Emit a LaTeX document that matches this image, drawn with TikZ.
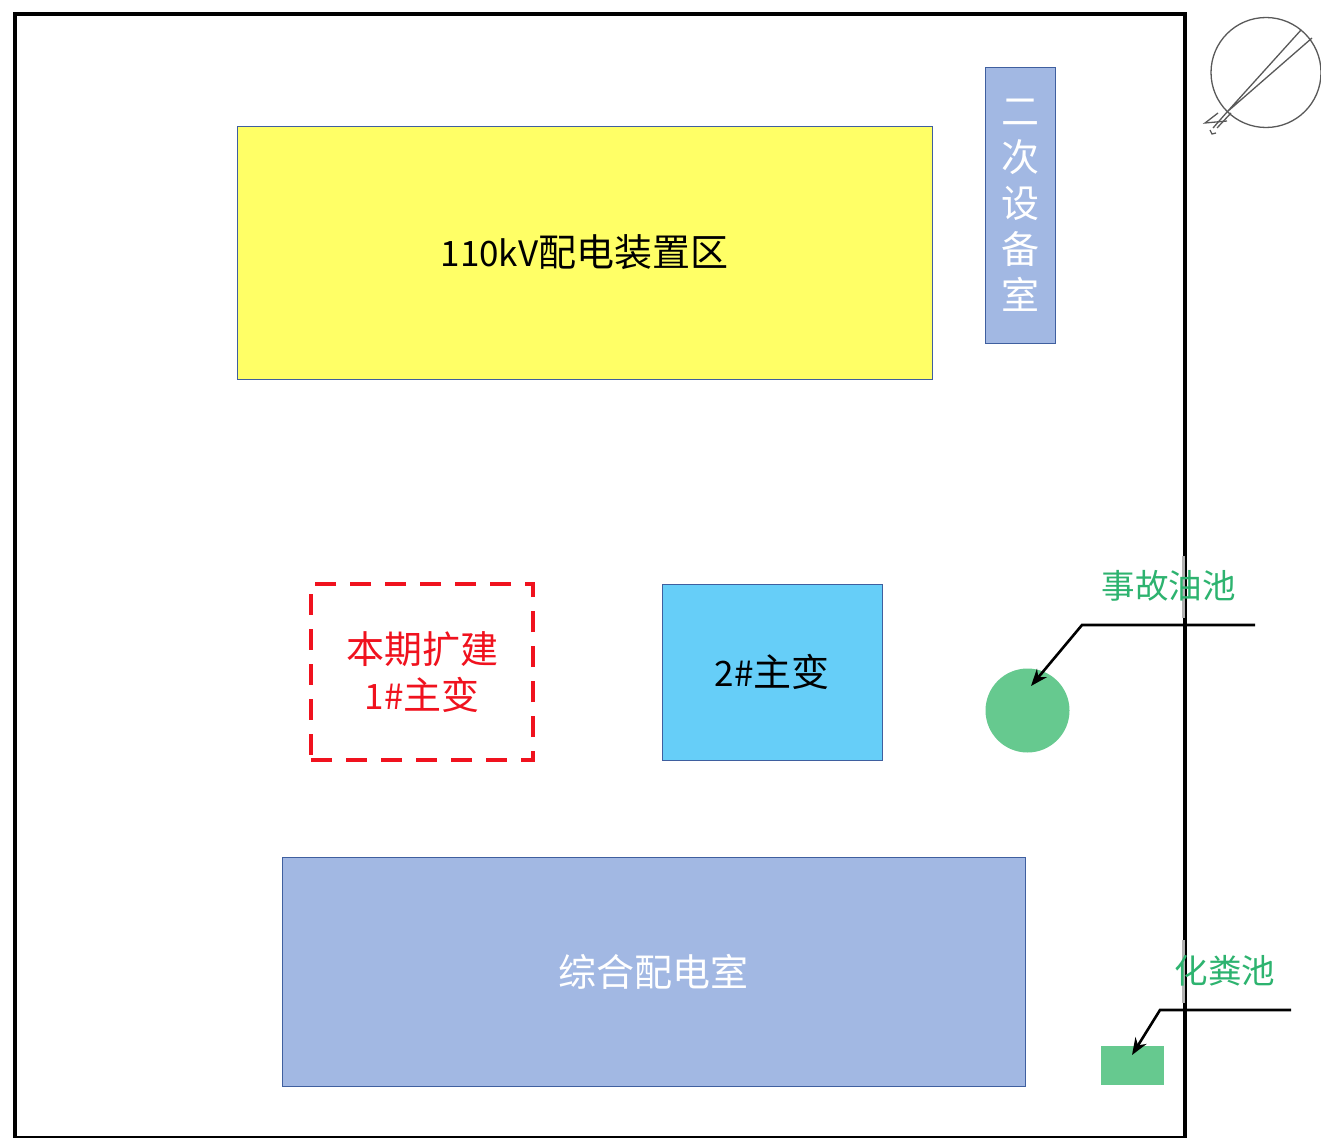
\documentclass[tikz,border=0pt]{standalone}
\usepackage{fontspec}
\usetikzlibrary{arrows.meta}
\setmainfont{Carlito}
\newfontfamily\cjk{Noto Sans CJK SC}
\newcommand{\lat}[1]{{\fontsize{35}{46}\selectfont #1}}
\definecolor{zoneyellow}{HTML}{FFFF66}
\definecolor{zoneblue}{HTML}{A2B8E3}
\definecolor{zonesky}{HTML}{66CEF8}
\definecolor{zonegreen}{HTML}{66C98F}
\definecolor{edgeblue}{HTML}{3F5F9F}
\definecolor{markred}{HTML}{F0121E}
\definecolor{labelgreen}{HTML}{2DB36F}
\tikzset{
  zone/.style={draw=edgeblue,line width=0.9pt,inner sep=0pt,outer sep=0pt,align=center,text=black,
    font=\cjk\fontsize{38}{46}\selectfont},
  pit/.style={fill=zonegreen,draw=none,inner sep=0pt,outer sep=0pt},
  pitlabel/.style={inner sep=0pt,text=labelgreen,font=\cjk\fontsize{33.5}{40}\selectfont},
  leader/.style={draw=black,line width=2.6pt,-{Stealth[length=17pt,width=13pt]}},
  compassline/.style={draw=black!65,line width=1.3pt}
}
\begin{document}
\begin{tikzpicture}[x=1pt,y=-1pt]
\useasboundingbox (0,0) rectangle (1321,1137);
\fill[white] (0,0) rectangle (1321,1137);
% site boundary
\node[draw=black,line width=4.5pt,inner sep=0pt,minimum width=1170pt,minimum height=1124pt] (site) at (600,576) {};
\draw[black!30,line width=2.5pt] (1183.5,556) -- (1183.5,618);
\draw[black!30,line width=2.5pt] (1183.5,940) -- (1183.5,1003);
% zones
\node[zone,fill=zoneyellow,minimum width=695pt,minimum height=253pt] (hv) at (584.5,252.5) {\lat{110kV}配电装置区};
\node[zone,fill=zoneblue,minimum width=70pt,minimum height=276pt,text=white] (sec) at (1020,205) {二\\次\\设\\备\\室};
\node[zone,draw=markred,line width=4.5pt,dash pattern=on 21pt off 14pt,minimum width=222pt,minimum height=176pt,text=markred] (t1) at (422,672) {本期扩建\\\lat{1\#}主变};
\node[zone,fill=zonesky,minimum width=220pt,minimum height=176pt] (t2) at (772,672) {\lat{2\#}主变};
\node[zone,fill=zoneblue,minimum width=743pt,minimum height=229pt,text=white] (ctrl) at (653.5,971.5) {综合配电室};
% pits
\node[pit,circle,minimum size=84pt] (oil) at (1027.5,710.5) {};
\node[pit,minimum width=63pt,minimum height=39pt] (septic) at (1132.5,1065.5) {};
\node[pitlabel] (oillabel) at (1168.5,586) {事故油池};
\node[pitlabel] (septiclabel) at (1225,971) {化粪池};
% leaders
\coordinate (oila) at (1255,625);
\coordinate (oilb) at (1082,625);
\coordinate (oilc) at (1031,686);
\coordinate (sepa) at (1291,1010);
\coordinate (sepb) at (1160,1010);
\coordinate (sepc) at (1132,1055);
\draw[leader] (oila) -- (oilb) -- (oilc);
\draw[leader] (sepa) -- (sepb) -- (sepc);
% north arrow
\node[draw=black!65,line width=1.3pt,circle,inner sep=0pt,minimum size=110pt] (compass) at (1266,72.5) {};
\coordinate (tip) at (1227,112);
\coordinate (ra) at (1301,30);
\coordinate (rb) at (1312,38);
\coordinate (ta) at (1213,128);
\coordinate (tb) at (1217,128);
\coordinate (hooka) at (1210,130);
\coordinate (hookb) at (1212,134);
\coordinate (hookc) at (1216,133);
\coordinate (barb) at (1205,123);
\coordinate (barba) at (1218,113);
\coordinate (barbb) at (1227,121);
\coordinate (tailb) at (1231,113);
\draw[compassline] (ra) -- (tip) -- (rb);
\draw[compassline] (tip) -- (ta);
\draw[compassline] (tailb) -- (tb);
\draw[compassline] (hooka) -- (hookb) -- (hookc);
\draw[compassline] (barba) -- (barb) -- (barbb);
\end{tikzpicture}
\end{document}
